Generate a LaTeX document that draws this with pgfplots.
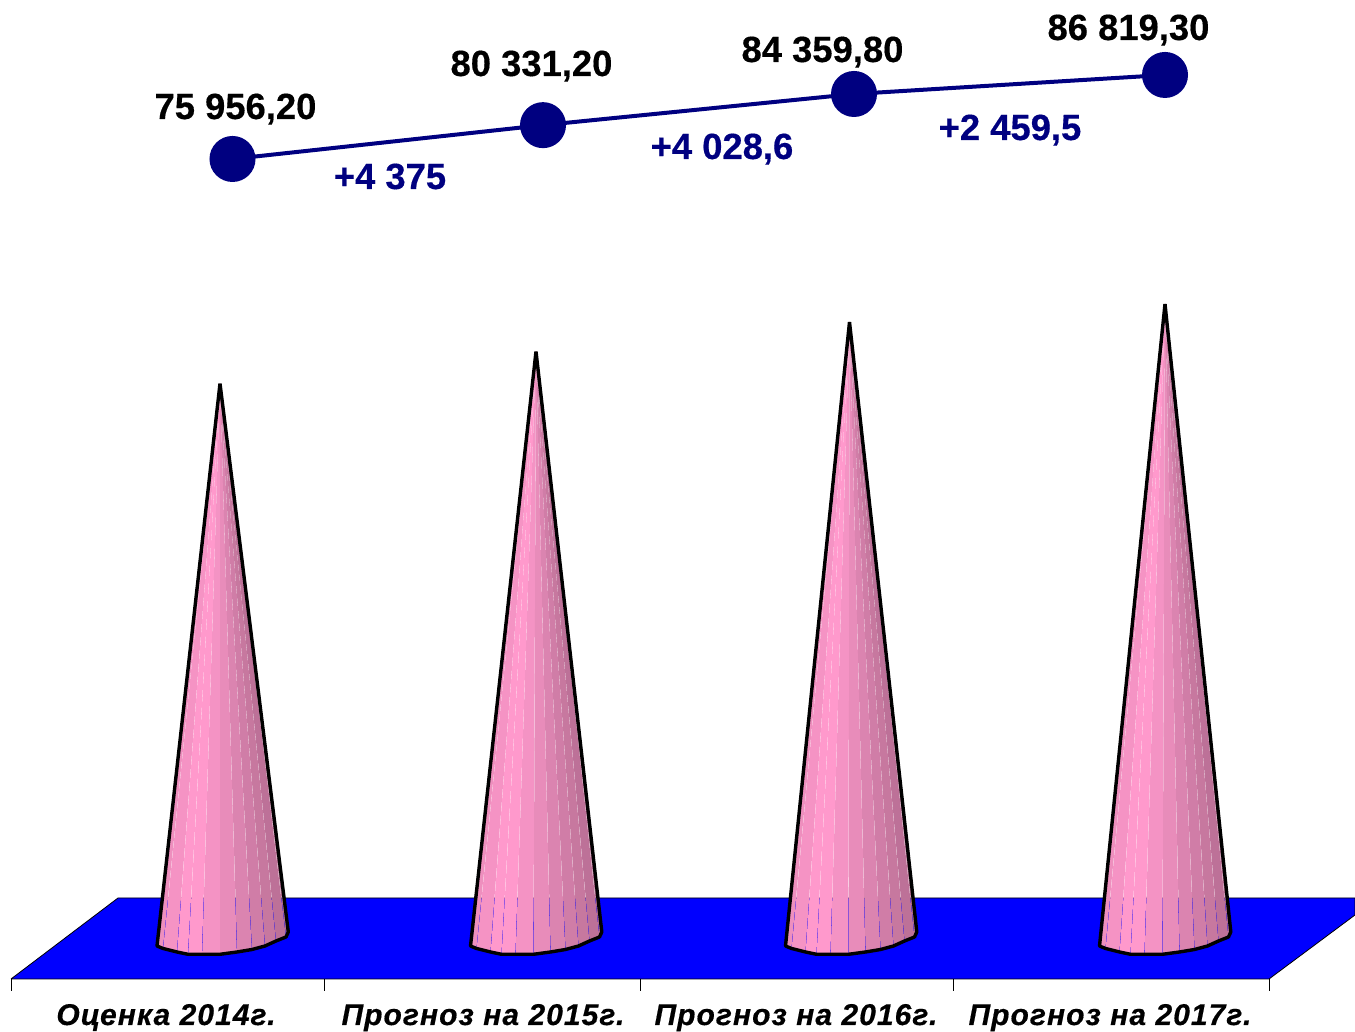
\documentclass[border=0pt]{standalone}
\usepackage{fontspec}
\setmainfont{Liberation Sans}
\newfontfamily\numfont[BoldFeatures={FakeBold=0.4}]{Liberation Sans}
\newfontfamily\catfont[LetterSpace=3.5,BoldItalicFeatures={FakeBold=0.4}]{Liberation Sans}
\usepackage{pgfplots}
\pgfplotsset{compat=1.18}

\definecolor{navyline}{HTML}{000080}
\definecolor{floorblue}{HTML}{0000FF}
\definecolor{f0}{HTML}{EE8FBE}
\definecolor{f1}{HTML}{F593C4}
\definecolor{f2}{HTML}{FF99CC}
\definecolor{f3}{HTML}{FF99CC}
\definecolor{f4}{HTML}{F493C4}
\definecolor{f5}{HTML}{E88CBA}
\definecolor{f6}{HTML}{DB84B0}
\definecolor{f7}{HTML}{D07DA7}
\definecolor{f8}{HTML}{C7789F}
\definecolor{f9}{HTML}{BD7198}
\definecolor{f10}{HTML}{B56D91}

% one side of a cone: tip plus two points of the base
\newcommand\facet[5]{%
  \addplot[draw=none,fill=#1] table[row sep=\\,
    x expr=\thisrow{f}*\tipx+(1-\thisrow{f})*(\basex+\thisrow{u}),
    y expr=\thisrow{f}*\topv+\thisrow{v}*136.5]
    {u f v\\ 0 1 0\\ #2 0 #3\\ #4 0 #5\\};
}
% #1 tip x, #2 base x, #3 value
\newcommand\cone[3]{%
  \def\tipx{#1}\def\basex{#2}\def\topv{#3}%
  \facet{f0}{-65}{-6}{-59.15}{-8.5}
  \facet{f1}{-58.85}{-8.5}{-45.15}{-12}
  \facet{f2}{-44.85}{-12}{-34.15}{-14.3}
  \facet{f3}{-33.85}{-14.3}{-20.15}{-14.3}
  \facet{f4}{-19.85}{-14.3}{-2.15}{-14.3}
  \facet{f5}{-1.85}{-14.3}{14.85}{-12}
  \facet{f6}{15.15}{-12}{29.85}{-9.5}
  \facet{f7}{30.15}{-9.5}{42.85}{-6}
  \facet{f8}{43.15}{-6}{53.85}{-1}
  \facet{f9}{54.15}{-1}{63.85}{3}
  \facet{f10}{64.15}{3}{66.3}{8}
  \addplot[draw=black,line width=3.4pt,line join=round] table[row sep=\\,
    x expr=\thisrow{f}*\tipx+(1-\thisrow{f})*(\basex+\thisrow{u}),
    y expr=\thisrow{f}*\topv+\thisrow{v}*136.5]
    {u f v\\ 0 1 0\\ -65 0 -6\\ -59 0 -8.5\\ -45 0 -12\\ -34 0 -14.3\\ -2 0 -14.3\\
     15 0 -12\\ 30 0 -9.5\\ 43 0 -6\\ 54 0 -1\\ 64 0 3\\ 66.3 0 8\\ 0 1 0\\};
}

\pgfplotstableread{
x y
232.5 75956.2
543 80331.2
854 84359.8
1165 86819.3
}\totals

\begin{document}
\begin{tikzpicture}
  \path[use as bounding box] (0,-53pt) rectangle (1355pt,979pt);
  \begin{axis}[
    scale only axis,
    width=1355pt,
    height=979pt,
    xmin=0, xmax=1355,
    ymin=-5323.5, ymax=128310,
    clip=false,
    axis line style={draw=none},
    xtick pos=bottom,
    tick align=outside,
    ytick=\empty,
    xtick={166,483,796,1110},
    xticklabels={Оценка 2014г.,Прогноз на 2015г.,Прогноз на 2016г.,Прогноз на 2017г.},
    minor xtick={11,324,640,953,1269},
    major tick length=0pt,
    minor tick length=12pt,
    every minor tick/.style={draw=black,line width=0.7pt},
    xticklabel style={anchor=base,yshift=-46pt,
      font=\catfont\fontsize{30}{36}\selectfont\bfseries\itshape},
  ]
  \addplot[fill=floorblue,draw=black,line width=0.8pt] coordinates
    {(11,-5323.5) (118,5733) (1355,5733) (1355,3412.5) (1269,-5323.5) (11,-5323.5)};
  \cone{220}{222}{75956.2}
  \cone{536}{535.5}{80331.2}
  \cone{849.5}{850.5}{84359.8}
  \cone{1165}{1164.5}{86819.3}
  \end{axis}

  \begin{axis}[
    scale only axis,
    width=1355pt,
    height=979pt,
    xmin=0, xmax=1355,
    ymin=-30070, ymax=96515,
    hide axis,
    clip=false,
  ]
  \addplot[navyline,line width=4pt,mark=*,
    mark size=21pt,
    mark options={fill=navyline,draw=none}] table[x=x,y=y] {\totals};
  \end{axis}

  \begin{scope}[every node/.style={anchor=base,font=\numfont\fontsize{36.4}{40}\selectfont\bfseries,inner sep=0pt}]
    \node at (235.5pt,860pt) {75 956,20};
    \node at (531.5pt,903pt) {80 331,20};
    \node at (822.5pt,917pt) {84 359,80};
    \node at (1128.5pt,939pt) {86 819,30};
    \node[text=navyline] at (390pt,790pt) {+4 375};
    \node[text=navyline] at (722pt,820pt) {+4 028,6};
    \node[text=navyline] at (1010pt,839pt) {+2 459,5};
  \end{scope}
\end{tikzpicture}
\end{document}
